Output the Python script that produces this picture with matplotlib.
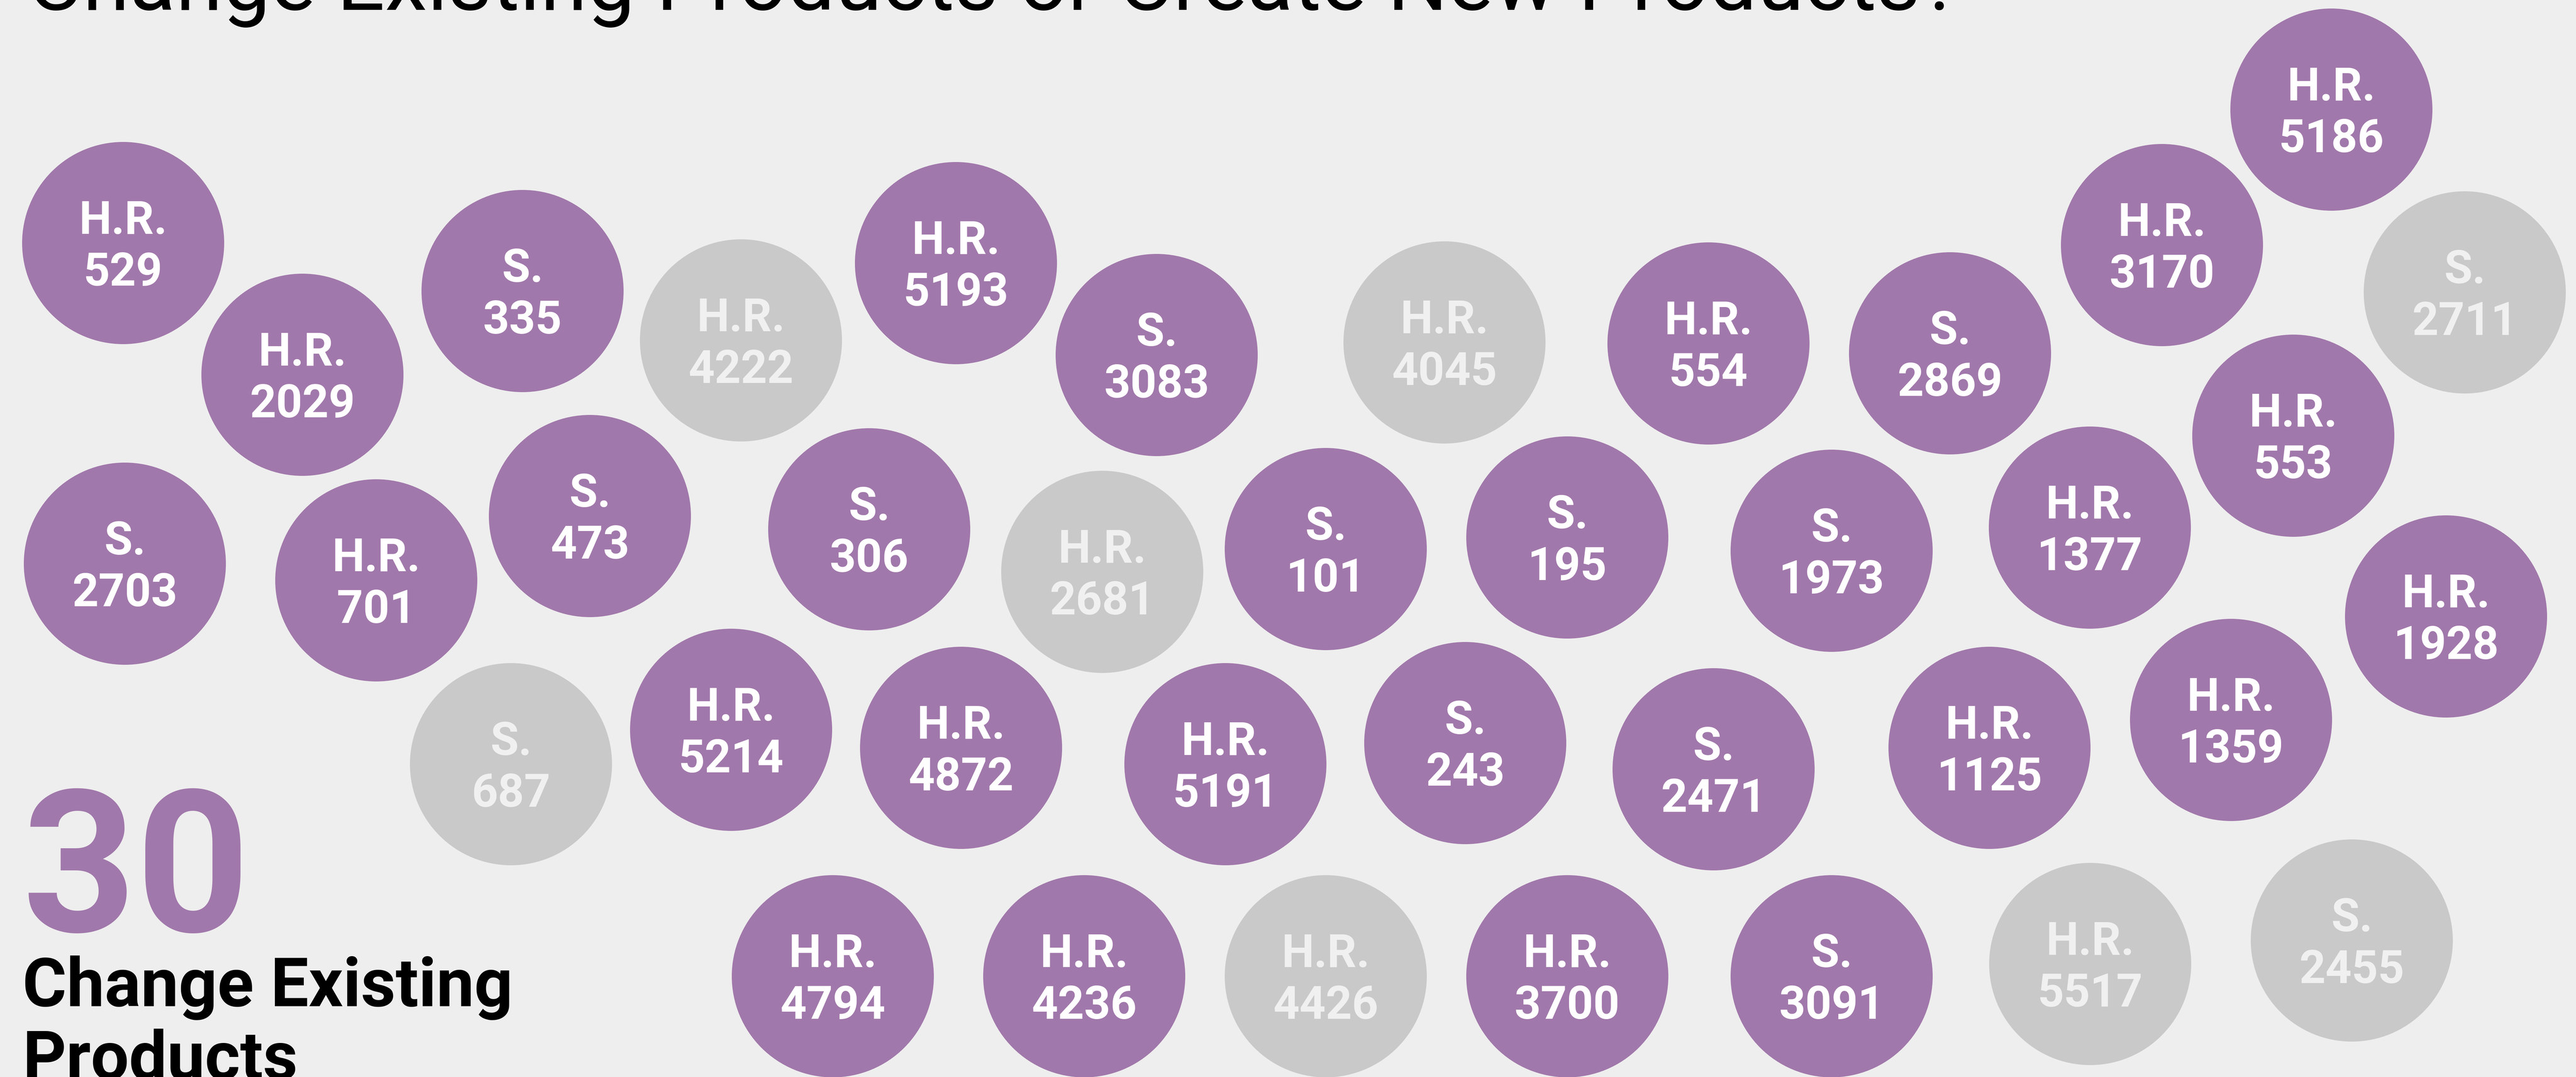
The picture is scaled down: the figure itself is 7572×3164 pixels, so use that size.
import matplotlib
matplotlib.use("Agg")
import matplotlib.pyplot as plt
from matplotlib.patches import Circle

# ---- data ----
prefixes = ["H.R.", "H.R.", "S.", "H.R.", "H.R.", "S.", "H.R.", "H.R.", "S.", "H.R.", "H.R.", "S.",
            "S.", "H.R.", "S.", "S.", "H.R.", "S.", "S.", "S.", "H.R.", "H.R.", "H.R.",
            "S.", "H.R.", "H.R.", "H.R.", "S.", "S.", "H.R.", "H.R.",
            "H.R.", "H.R.", "H.R.", "H.R.", "S.", "H.R.", "S."]
numbers = ["529", "2029", "335", "4222", "5193", "3083", "4045", "554", "2869", "3170", "5186", "2711",
           "2703", "701", "473", "306", "2681", "101", "195", "1973", "1377", "553", "1928",
           "687", "5214", "4872", "5191", "243", "2471", "1125", "1359",
           "4794", "4236", "4426", "3700", "3091", "5517", "2455"]
# 1 = changes existing products, 0 = other
changes_existing = [1, 1, 1, 0, 1, 1, 0, 1, 1, 1, 1, 0,
                    1, 1, 1, 1, 0, 1, 1, 1, 1, 1, 1,
                    0, 1, 1, 1, 1, 1, 1, 1,
                    1, 1, 0, 1, 1, 0, 0]
# bubble layout positions (pixel space of the chart)
pos_x = [362, 889, 1536, 2178, 2810, 3400, 4246, 5022, 5732, 6355, 6853, 7245,
         367, 1106, 1734, 2555, 3240, 3897, 4607, 5384, 6143, 6741, 7190,
         1502, 2149, 2825, 3602, 4307, 5037, 5848, 6558,
         2448, 3187, 3897, 4607, 5384, 6144, 6913]
pos_y = [714, 1101, 855, 1000, 773, 1043, 1006, 1009, 1038, 720, 322, 859,
         1656, 1705, 1516, 1555, 1680, 1613, 1579, 1618, 1550, 1280, 1811,
         2245, 2144, 2197, 2245, 2183, 2260, 2197, 2115,
         2868, 2868, 2868, 2868, 2868, 2832, 2763]

title = "Change Existing Products or Create New Products?"

# ---- style ----
W, H = 7572, 3164
BG = "#EEEEEE"
PURPLE = "#A178AB"
GREY = "#C9C9C9"
GREY_TXT = "#F0F0F0"
R = 297
FONT = "Roboto"

fig = plt.figure(figsize=(W / 100, H / 100), dpi=100, facecolor=BG)
ax = fig.add_axes([0, 0, 1, 1])
ax.set_facecolor(BG)
ax.set_xlim(0, W)
ax.set_ylim(H, 0)
ax.axis("off")

for p, n, c, x, y in zip(prefixes, numbers, changes_existing, pos_x, pos_y):
    fill = PURPLE if c else GREY
    tc = "white" if c else GREY_TXT
    ax.add_patch(Circle((x, y), R, facecolor=fill, edgecolor="none"))
    ax.text(x, y - 27, p, ha="center", va="baseline", color=tc,
            fontsize=97, fontweight="bold", family=FONT)
    ax.text(x, y + 125, n, ha="center", va="baseline", color=tc,
            fontsize=97, fontweight="bold", family=FONT)

ax.text(80, 29, title, ha="left", va="baseline", color="black",
        fontsize=180, family=FONT)

total = sum(changes_existing)
ax.text(66, 2736, str(total), ha="left", va="baseline", color=PURPLE,
        fontsize=420, fontweight="bold", family=FONT)
ax.text(66, 2956, "Change Existing", ha="left", va="baseline", color="black",
        fontsize=143, fontweight="bold", family=FONT)
ax.text(66, 3171, "Products", ha="left", va="baseline", color="black",
        fontsize=143, fontweight="bold", family=FONT)

fig.savefig("out.png", dpi=100, facecolor=BG)
